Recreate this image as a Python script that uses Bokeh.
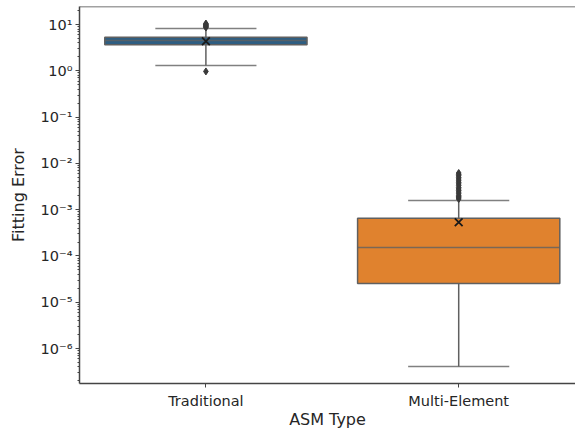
from bokeh.plotting import figure
from bokeh.models import (Range1d, FixedTicker, CustomJSTickFormatter, Span,
                          ColumnDataSource)
from bokeh.embed import file_html
from bokeh.resources import INLINE

# Box statistics per ASM type (fitting error)
categories = ["Traditional", "Multi-Element"]
positions = [0, 1]
q1 = [3.64, 2.55e-5]
median = [4.5, 1.53e-4]
q3 = [5.32, 6.5e-4]
whisker_low = [1.30, 4.1e-7]
whisker_high = [8.2, 1.58e-3]
means = [4.36, 5.36e-4]
colors = ["#2e5e82", "#e0822e"]

# Outlying observations
trad_outliers = [0.97, 8.6, 8.9, 9.2, 9.5, 9.8, 10.1, 10.5]
multi_outliers = [1.7e-3, 1.8e-3, 1.9e-3, 2.0e-3, 2.2e-3, 2.4e-3, 2.6e-3,
                  2.8e-3, 3.0e-3, 3.3e-3, 3.6e-3, 3.9e-3, 4.2e-3, 4.6e-3,
                  5.0e-3, 5.4e-3, 5.8e-3, 6.2e-3]

decades = [10.0 ** e for e in range(-6, 2)]
minor = [m * 10.0 ** e for e in range(-7, 2) for m in range(2, 10)]

box_width = 0.8
cap_width = 0.4

p = figure(width=575, height=432, y_axis_type="log",
           x_range=Range1d(-0.5, 1.462), y_range=Range1d(1.76e-7, 24.5),
           output_backend="svg", toolbar_location=None,
           min_border_left=79, min_border_right=0, min_border_top=6,
           min_border_bottom=49)
p.background_fill_color = "white"
p.border_fill_color = "white"
p.outline_line_color = None
p.xgrid.visible = False
p.ygrid.visible = False

line_col = "#606060"

src = ColumnDataSource(dict(x=positions, q1=q1, q3=q3, med=median,
                            lo=whisker_low, hi=whisker_high, mean=means,
                            color=colors,
                            cl=[x - cap_width / 2 for x in positions],
                            cr=[x + cap_width / 2 for x in positions],
                            bl=[x - box_width / 2 for x in positions],
                            br=[x + box_width / 2 for x in positions]))

# whisker stems
p.segment(x0="x", y0="q3", x1="x", y1="hi", source=src, line_color=line_col, line_width=1.5)
p.segment(x0="x", y0="lo", x1="x", y1="q1", source=src, line_color=line_col, line_width=1.5)
# caps
p.segment(x0="cl", y0="hi", x1="cr", y1="hi", source=src, line_color=line_col, line_width=1.5, line_alpha=0.8)
p.segment(x0="cl", y0="lo", x1="cr", y1="lo", source=src, line_color=line_col, line_width=1.5, line_alpha=0.8)
# boxes
p.vbar(x="x", width=box_width, bottom="q1", top="q3", source=src,
       fill_color="color", line_color=line_col, line_width=1.5)
# medians
p.segment(x0="bl", y0="med", x1="br", y1="med", source=src, line_color=line_col,
          line_width=1.5, line_alpha=0.8)

# outliers
p.scatter([positions[0]] * len(trad_outliers), trad_outliers, marker="diamond",
          size=7, fill_color="#3a3a3a", line_color="#3a3a3a")
p.scatter([positions[1]] * len(multi_outliers), multi_outliers, marker="diamond",
          size=7, fill_color="#3a3a3a", line_color="#3a3a3a")

# means
p.scatter(x="x", y="mean", source=src, marker="x", size=11,
          line_color="#1a1a1a", line_width=1.8)

# top spine
p.add_layout(Span(location=24.5, dimension="width", line_color="#444444", line_width=1.5))

axis_col = "#444444"
text_col = "#262626"
font = "DejaVu Sans"

xa = p.xaxis[0]
xa.ticker = FixedTicker(ticks=positions, minor_ticks=[])
xa.major_label_overrides = {positions[i]: categories[i] for i in range(len(categories))}
xa.axis_label = "ASM Type"

ya = p.yaxis[0]
ya.ticker = FixedTicker(ticks=decades, minor_ticks=minor)
ya.formatter = CustomJSTickFormatter(code="""
    const sup = {"0":"\u2070","1":"\u00b9","2":"\u00b2","3":"\u00b3","4":"\u2074",
                 "5":"\u2075","6":"\u2076","7":"\u2077","8":"\u2078","9":"\u2079","-":"\u207b"};
    const e = Math.round(Math.log10(tick));
    return "10" + String(e).split("").map(c => sup[c]).join("");
""")
ya.axis_label = "Fitting Error"

for ax in (xa, ya):
    ax.axis_line_color = axis_col
    ax.axis_line_width = 1.5
    ax.major_tick_line_color = axis_col
    ax.minor_tick_line_color = axis_col
    ax.major_tick_in = 0
    ax.major_tick_out = 4
    ax.minor_tick_in = 0
    ax.minor_tick_out = 2
    ax.major_label_text_font = font
    ax.major_label_text_font_size = "14.5px"
    ax.major_label_text_color = text_col
    ax.axis_label_text_font = font
    ax.axis_label_text_font_size = "16px"
    ax.axis_label_text_font_style = "normal"
    ax.axis_label_text_color = text_col

xa.major_label_standoff = 5
xa.axis_label_standoff = -2
ya.major_label_standoff = 3
ya.axis_label_standoff = 10

open("out.html", "w").write(file_html(p, INLINE))
